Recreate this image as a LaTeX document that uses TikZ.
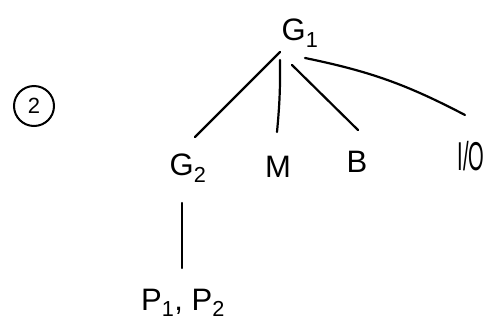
\documentclass[tikz,border=0pt]{standalone}
\usepackage{fontspec}
\setmainfont{Liberation Sans}
\begin{document}
\begin{tikzpicture}[x=1pt,y=-1pt,
  lbl/.style={inner sep=0pt,font=\fontsize{31}{33}\selectfont},
  edge/.style={line width=2.2pt,line cap=round}]
\useasboundingbox (0,0) rectangle (487,327);
\node[lbl] (G1) at (300,33) {G\textsubscript{1}};
\node[lbl] (G2) at (188,168) {G\textsubscript{2}};
\node[lbl] (M) at (278,167) {M};
\node[lbl] (B) at (357,162) {B};
\node[lbl] (IO) at (471,156) {\scalebox{0.65}[1.3]{I/O}};
\node[lbl] (P) at (183,303) {P\textsubscript{1}, P\textsubscript{2}};
\node[draw,circle,line width=2pt,minimum size=40pt,inner sep=0pt,font=\fontsize{22}{24}\selectfont] (C2) at (34,106) {2};
\draw[edge] ([shift={(-20,19)}]G1.center) -- ([shift={(7,-31)}]G2.center);
\draw[edge] ([shift={(-20,27)}]G1.center) to[bend left=3] ([shift={(-1,-35)}]M.center);
\draw[edge] ([shift={(-8,32)}]G1.center) -- ([shift={(1,-32)}]B.center);
\draw[edge] ([shift={(5,25)}]G1.center) to[bend left=8] ([shift={(-6,-41)}]IO.center);
\draw[edge] ([shift={(-6,35)}]G2.center) -- ([shift={(-1,-35)}]P.center);
\end{tikzpicture}
\end{document}
